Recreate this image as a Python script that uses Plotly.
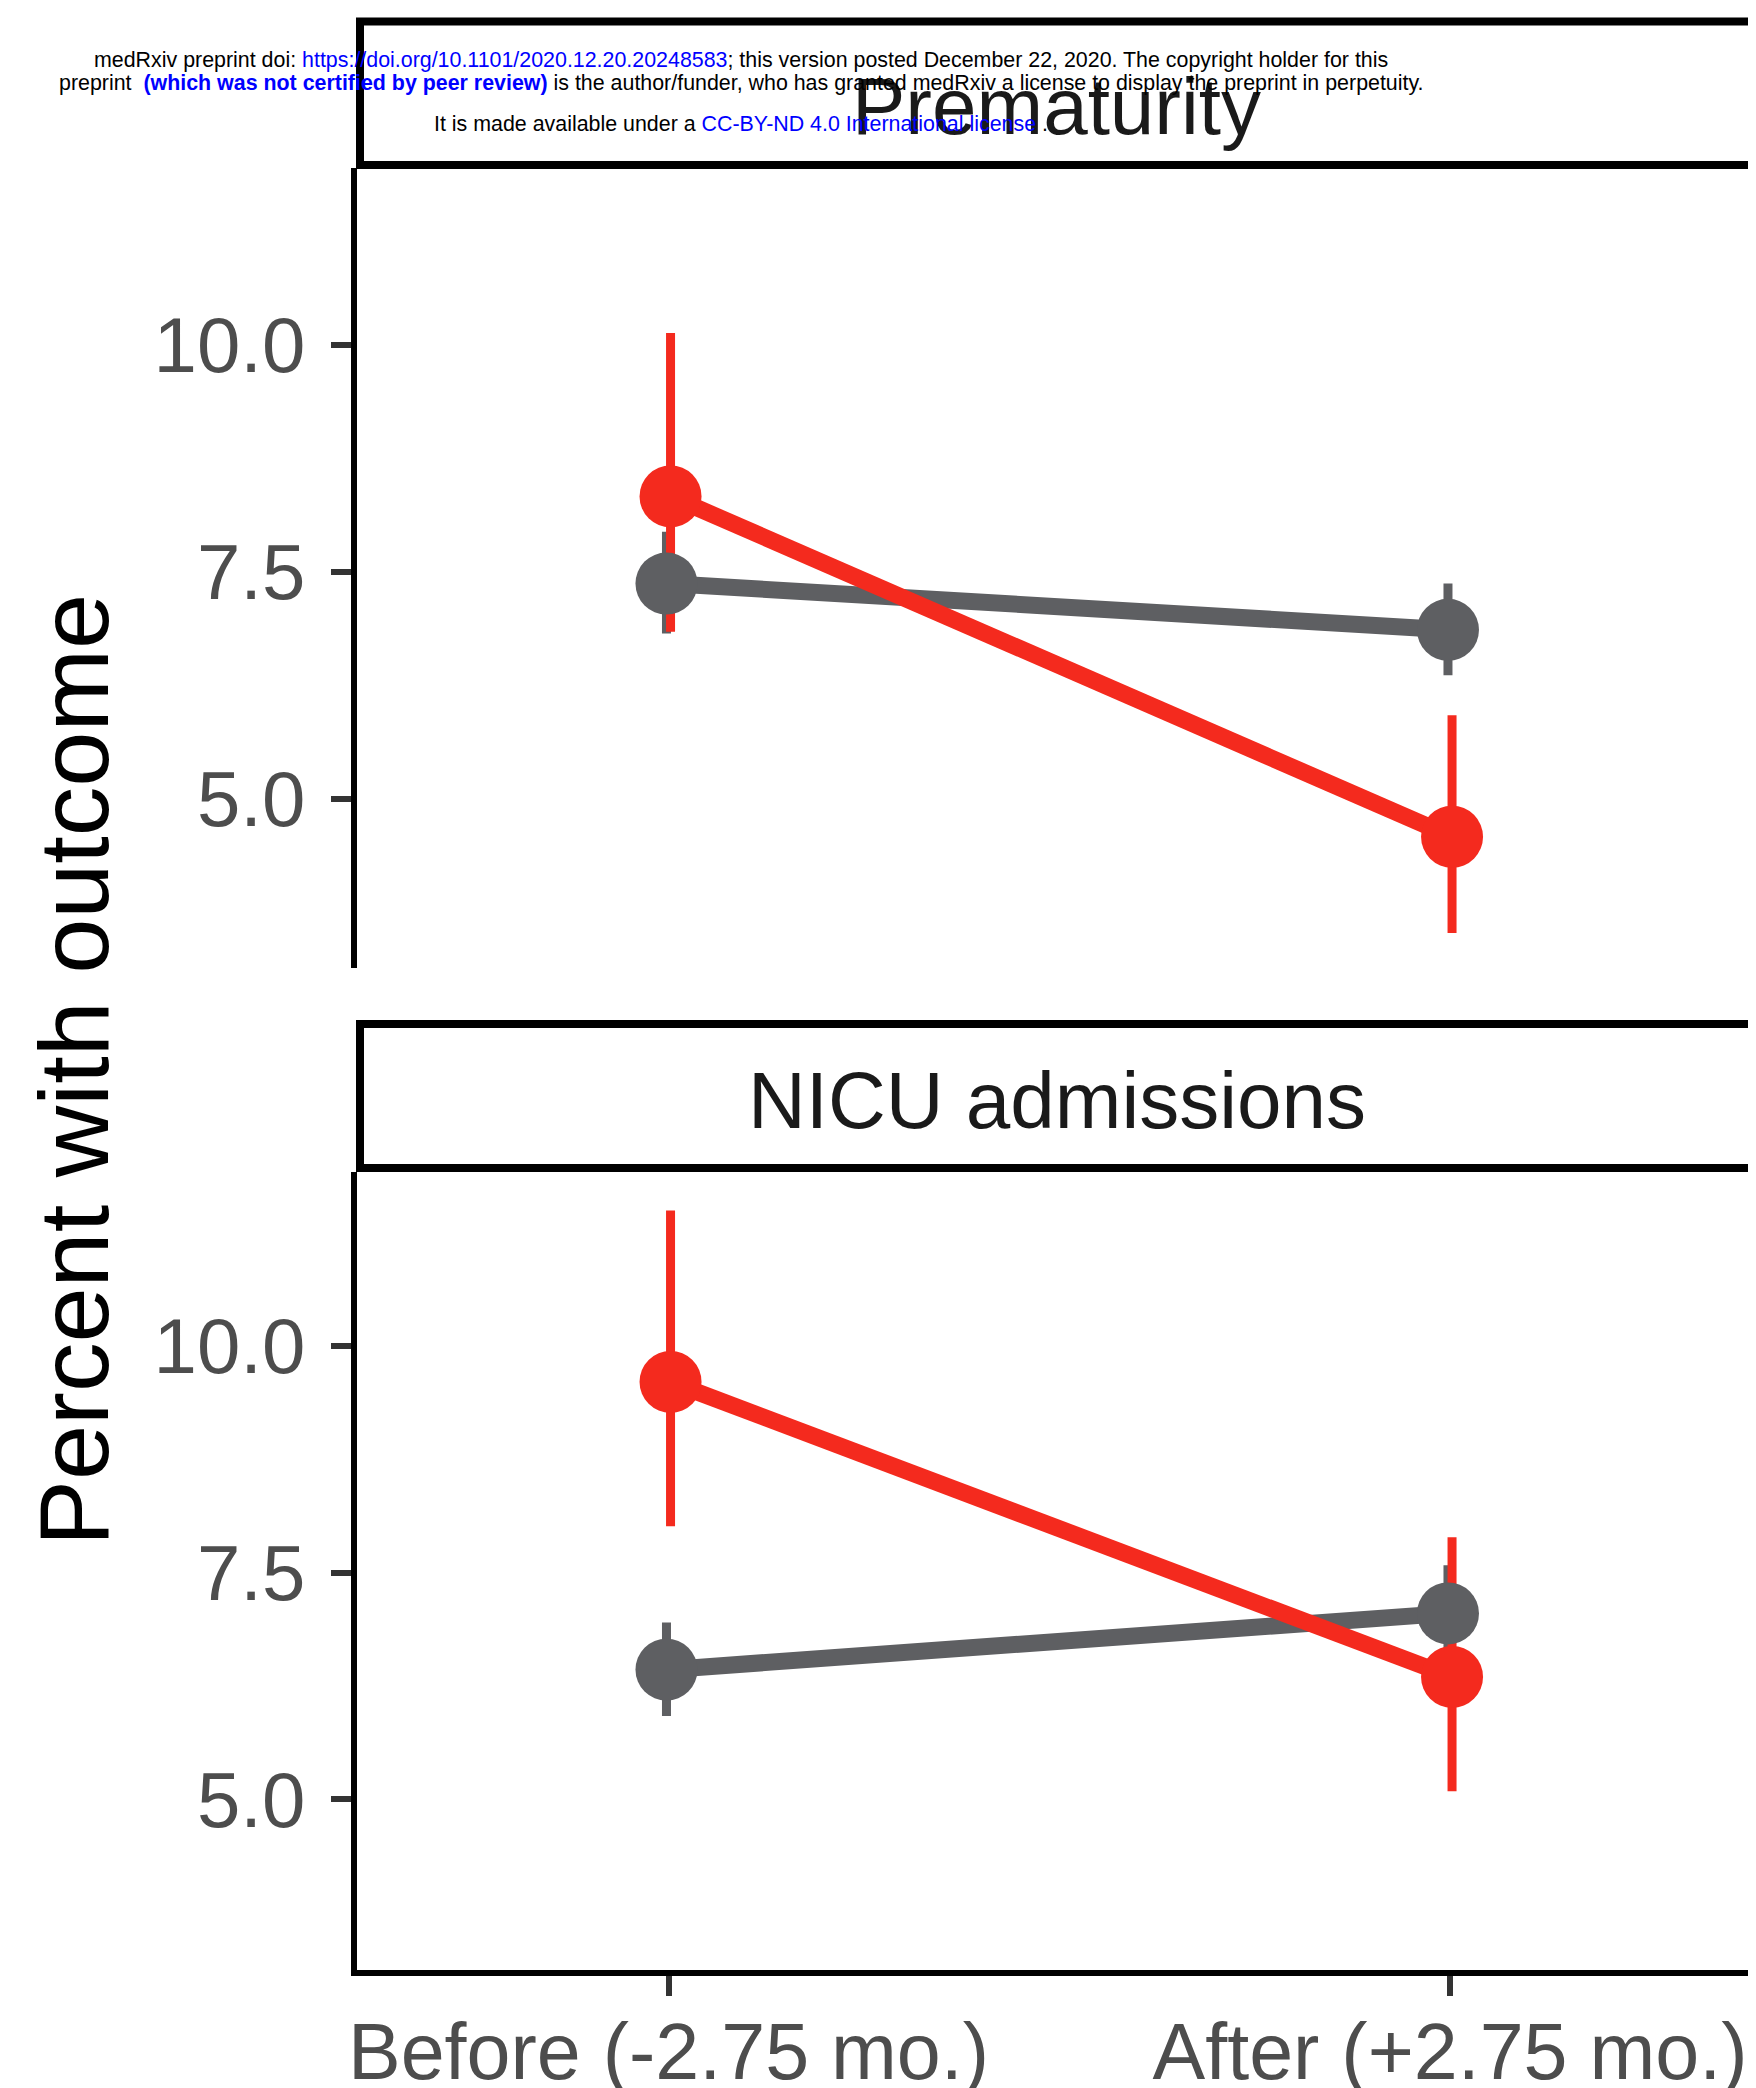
import plotly.graph_objects as go

# ---------------- data ----------------
categories = ["Before (-2.75 mo.)", "After (+2.75 mo.)"]
cat_pos = [1, 2]
panels = ["Prematurity", "NICU admissions"]

# Prematurity
prem_gray = [7.37, 6.86]
prem_gray_lo = [6.82, 6.36]
prem_gray_hi = [7.94, 7.37]
prem_red = [8.33, 4.58]
prem_red_lo = [6.84, 3.52]
prem_red_hi = [10.13, 5.92]

# NICU admissions
nicu_gray = [6.43, 7.05]
nicu_gray_lo = [5.92, 6.52]
nicu_gray_hi = [6.95, 7.58]
nicu_red = [9.60, 6.35]
nicu_red_lo = [8.01, 5.09]
nicu_red_hi = [11.49, 7.89]

y_ticks = [5.0, 7.5, 10.0]
y_ticktext = ["5.0", "7.5", "10.0"]

# ---------------- style ----------------
OFF = 8                      # page body margin
W, H = 1756 - OFF, 2088 - OFF
MB = 118
PH = H - MB                  # plot area height in px
RED = "#F42A1E"
GRAY = "#5E5F62"
FONT = "Liberation Sans, Arial, Helvetica, sans-serif"
DODGE = 0.0026


def fx(px):
    return (px - OFF) / W


def fy(py):
    return (PH - (py - OFF)) / PH


fig = go.Figure()


def seg(xs, lo, hi):
    X, Y = [], []
    for x, a, b in zip(xs, lo, hi):
        X += [x, x, None]
        Y += [a, b, None]
    return X, Y


def add_panel(xa, ya, g, glo, ghi, r, rlo, rhi):
    xg = [c - DODGE for c in cat_pos]
    xr = [c + DODGE for c in cat_pos]
    X, Y = seg(xg, glo, ghi)
    fig.add_trace(go.Scatter(x=X, y=Y, mode="lines", line=dict(color=GRAY, width=9),
                             xaxis=xa, yaxis=ya, showlegend=False, hoverinfo="skip"))
    X, Y = seg(xr, rlo, rhi)
    fig.add_trace(go.Scatter(x=X, y=Y, mode="lines", line=dict(color=RED, width=9),
                             xaxis=xa, yaxis=ya, showlegend=False, hoverinfo="skip"))
    fig.add_trace(go.Scatter(x=xg, y=g, mode="lines", line=dict(color=GRAY, width=17),
                             xaxis=xa, yaxis=ya, showlegend=False))
    fig.add_trace(go.Scatter(x=xr, y=r, mode="lines", line=dict(color=RED, width=17),
                             xaxis=xa, yaxis=ya, showlegend=False))
    fig.add_trace(go.Scatter(x=xg, y=g, mode="markers", marker=dict(color=GRAY, size=62),
                             xaxis=xa, yaxis=ya, showlegend=False))
    fig.add_trace(go.Scatter(x=xr, y=r, mode="markers", marker=dict(color=RED, size=62),
                             xaxis=xa, yaxis=ya, showlegend=False))


add_panel("x2", "y2", prem_gray, prem_gray_lo, prem_gray_hi, prem_red, prem_red_lo, prem_red_hi)
add_panel("x", "y", nicu_gray, nicu_gray_lo, nicu_gray_hi, nicu_red, nicu_red_lo, nicu_red_hi)

x_dom = [fx(357), min(1.0, fx(1753))]
x_rng = [0.6014, 2.3877]

common_y = dict(
    tickvals=y_ticks, ticktext=y_ticktext, showgrid=False, zeroline=False,
    showline=True, linecolor="black", linewidth=6,
    ticks="outside", ticklen=20, tickwidth=6, tickcolor="#333333",
    tickfont=dict(family=FONT, size=78, color="#4D4D4D"),
    ticklabelstandoff=10, automargin=False, fixedrange=True,
)

fig.update_layout(
    width=W, height=H,
    margin=dict(l=0, r=0, t=0, b=MB, autoexpand=False),
    paper_bgcolor="white", plot_bgcolor="white",
    showlegend=False,
    xaxis=dict(domain=x_dom, range=x_rng, tickvals=cat_pos, ticktext=categories,
               showgrid=False, zeroline=False, showline=True, linecolor="black", linewidth=6,
               ticks="outside", ticklen=20, tickwidth=6, tickcolor="#333333",
               tickfont=dict(family=FONT, size=79, color="#4D4D4D"),
               ticklabelstandoff=-12, automargin=False, anchor="y"),
    xaxis2=dict(domain=x_dom, range=x_rng, showgrid=False, zeroline=False, showline=False,
                showticklabels=False, ticks="", anchor="y2"),
    yaxis=dict(domain=[fy(1970), fy(1172)], range=[3.121, 11.913], anchor="x", **common_y),
    yaxis2=dict(domain=[fy(968), fy(168)], range=[3.134, 11.948], anchor="x2", **common_y),
)

# strips
for top, bot, label, dy in [(21.5, 165, panels[0], 13), (1024, 1168, panels[1], 4)]:
    fig.add_shape(type="rect", xref="paper", yref="paper",
                  x0=fx(360), x1=fx(1753), y0=fy(bot), y1=fy(top),
                  line=dict(color="black", width=8), fillcolor="rgba(0,0,0,0)", layer="above")
    fig.add_annotation(text=label, xref="paper", yref="paper",
                       x=fx((360 + 1753) / 2), y=fy((top + bot) / 2 + dy),
                       xanchor="center", yanchor="middle", showarrow=False,
                       font=dict(family=FONT, size=80, color="#1A1A1A"))

# y axis title
fig.add_annotation(text="Percent with outcome", xref="paper", yref="paper",
                   x=fx(73), y=fy(1070), xanchor="center", yanchor="middle",
                   textangle=-90, showarrow=False,
                   font=dict(family=FONT, size=99, color="black"))

# medRxiv header
BLUE = "#0000FF"
hdr = [
    ("medRxiv preprint doi: <span style='color:%s'>https://doi.org/10.1101/2020.12.20.20248583</span>; "
     "this version posted December 22, 2020. The copyright holder for this" % BLUE, 60),
    ("preprint \u00a0<b><span style='color:%s'>(which was not certified by peer review)</span></b> "
     "is the author/funder, who has granted medRxiv a license to display the preprint in perpetuity." % BLUE, 83),
    ("It is made available under a <span style='color:%s'>CC-BY-ND 4.0 International license</span> ." % BLUE, 124),
]
for txt, yc in hdr:
    fig.add_annotation(text=txt, xref="paper", yref="paper", x=fx(741), y=fy(yc),
                       xanchor="center", yanchor="middle", showarrow=False,
                       font=dict(family=FONT, size=21.4, color="black"))

fig.write_html("out.html")
